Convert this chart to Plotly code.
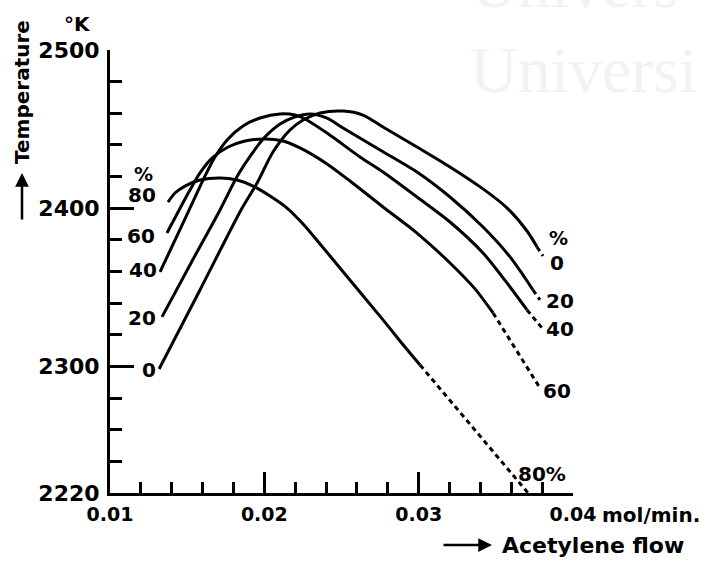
import plotly.graph_objects as go

# Flame temperature (K) versus acetylene flow (mol/min) for several admixture percentages.
# Solid parts are measured; the short tails are the extrapolated (dashed) continuations.
pct_labels = ["0", "20", "40", "60", "80"]

flow_0 = [0.01318, 0.01583, 0.01849, 0.01953, 0.02056, 0.02166, 0.02251, 0.02361, 0.02510,
          0.02639, 0.02769, 0.02989, 0.03203, 0.03417, 0.03572, 0.03702, 0.03767]
temp_0 = [2298.4, 2348.3, 2398.9, 2415.9, 2435.5, 2449.4, 2455.8, 2460.2, 2461.4,
          2458.9, 2451.3, 2438.7, 2426.1, 2412.2, 2400.2, 2385.6, 2375.5]
flow_0_ext = [0.03767, 0.03806]
temp_0_ext = [2375.5, 2369.8]

flow_20 = [0.01337, 0.01525, 0.01713, 0.01829, 0.01927, 0.02004, 0.02102, 0.02199, 0.02296,
           0.02406, 0.02510, 0.02750, 0.02989, 0.03203, 0.03417, 0.03592, 0.03741]
temp_20 = [2331.3, 2365.4, 2398.9, 2421.0, 2435.5, 2445.0, 2453.2, 2457.7, 2459.6,
           2457.0, 2450.7, 2436.8, 2422.9, 2407.1, 2388.1, 2369.2, 2348.3]
flow_20_ext = [0.03741, 0.03786]
temp_20_ext = [2348.3, 2342.0]

flow_40 = [0.01324, 0.01428, 0.01531, 0.01616, 0.01680, 0.01765, 0.01862, 0.01972, 0.02102,
           0.02199, 0.02251, 0.02406, 0.02620, 0.02769, 0.02989, 0.03203, 0.03417,
           0.03592, 0.03702]
temp_40 = [2359.7, 2381.2, 2402.7, 2420.4, 2432.4, 2443.8, 2452.0, 2457.0, 2459.6,
           2458.9, 2457.0, 2447.5, 2432.4, 2422.9, 2407.1, 2391.3, 2371.7,
           2350.2, 2335.7]
flow_40_ext = [0.03702, 0.03799]
temp_40_ext = [2335.7, 2324.3]

flow_60 = [0.01369, 0.01441, 0.01518, 0.01583, 0.01661, 0.01765, 0.01875, 0.02004, 0.02121,
           0.02231, 0.02406, 0.02555, 0.02769, 0.02989, 0.03203, 0.03365, 0.03482]
temp_60 = [2384.3, 2397.6, 2411.5, 2422.3, 2431.7, 2438.7, 2442.5, 2443.8, 2442.5,
           2438.1, 2428.0, 2417.2, 2400.8, 2384.3, 2365.4, 2349.0, 2333.8]
flow_60_ext = [0.03482, 0.03786]
temp_60_ext = [2333.8, 2286.4]

flow_80 = [0.01376, 0.01421, 0.01486, 0.01583, 0.01713, 0.01823, 0.01927, 0.02037, 0.02147,
           0.02251, 0.02361, 0.02490, 0.02769, 0.02879, 0.03009]
temp_80 = [2403.9, 2409.6, 2414.0, 2417.8, 2419.1, 2417.8, 2414.0, 2407.7, 2400.1,
           2390.0, 2377.4, 2362.2, 2329.4, 2316.1, 2300.9]
flow_80_ext = [0.03009, 0.03709]
temp_80_ext = [2300.9, 2220.0]

x_ticks = [0.01, 0.02, 0.03, 0.04]
x_ticktext = ["0.01", "0.02", "0.03", "0.04"]
y_ticks = [2220, 2300, 2400, 2500]
y_ticktext = ["2220", "2300", "2400", "2500"]

INK = "black"
FONT = dict(family="DejaVu Sans", color=INK, size=19, weight="bold")

# plot area in page pixels
L, R, T, B = 110, 573, 50, 493
W, H = 706, 563

fig = go.Figure()

curves = [
    (flow_0, temp_0, flow_0_ext, temp_0_ext),
    (flow_20, temp_20, flow_20_ext, temp_20_ext),
    (flow_40, temp_40, flow_40_ext, temp_40_ext),
    (flow_60, temp_60, flow_60_ext, temp_60_ext),
    (flow_80, temp_80, flow_80_ext, temp_80_ext),
]
for lab, (fx, ty, fxe, tye) in zip(pct_labels, curves):
    fig.add_trace(go.Scatter(
        x=fx, y=ty, mode="lines", name=lab + " %",
        line=dict(color=INK, width=3, shape="spline", smoothing=0.8),
        hoverinfo="skip", showlegend=False))
    fig.add_trace(go.Scatter(
        x=fxe, y=tye, mode="lines", name=lab + " % (extrapolated)",
        line=dict(color=INK, width=3, dash="5px,4px"),
        hoverinfo="skip", showlegend=False))


def at(px, py):
    """Page-pixel position expressed in paper coordinates."""
    return dict(xref="paper", yref="paper",
                x=(px - L) / (R - L), y=(B - py) / (B - T))


def label(text, px, py, size=19, anchor="center", **kw):
    fig.add_annotation(text=text, showarrow=False, xanchor=anchor, yanchor="middle",
                       font=dict(FONT, size=size), **at(px, py), **kw)


# curve labels, left side
label("%", 143, 174)
label("80", 142, 195, size=20)
label("60", 141, 236, size=20)
label("40", 143, 270, size=20)
label("20", 142, 318, size=20)
label("0", 149, 370, size=20)

# curve labels, right side
label("%", 558, 238)
label("0", 557, 263, size=20)
label("20", 560, 301, size=20)
label("40", 560, 329, size=20)
label("60", 557, 391, size=20)
label("80%", 542, 474, size=20)

# axis captions
label("°K", 77, 24, size=20)
label("Temperature", 22, 92, size=20, textangle=-90)
label("mol/min.", 600, 515, size=20, anchor="left")
label("Acetylene flow", 500, 545, size=22, anchor="left")

# arrows next to the captions
fig.add_annotation(text="", showarrow=True, arrowhead=2, arrowsize=1.1, arrowwidth=2.5,
                   arrowcolor=INK, ax=0, ay=48, axref="pixel", ayref="pixel", **at(22, 173))
fig.add_annotation(text="", showarrow=True, arrowhead=2, arrowsize=1.1, arrowwidth=2.5,
                   arrowcolor=INK, ax=-50, ay=0, axref="pixel", ayref="pixel", **at(492, 545))

# faint library watermark across the top right
WM = dict(family="Liberation Serif", size=66, color="#f2f2f2")
fig.add_annotation(text="Universi", showarrow=False, xanchor="left", yanchor="bottom",
                   font=WM, xref="paper", yref="paper",
                   x=(468 - L) / (R - L), y=(B - 108) / (B - T))
fig.add_annotation(text="Univers", showarrow=False, xanchor="left", yanchor="bottom",
                   font=WM, xref="paper", yref="paper",
                   x=(468 - L) / (R - L), y=(B - 23) / (B - T))

fig.update_xaxes(
    range=[0.01, 0.04], tickmode="array", tickvals=x_ticks, ticktext=x_ticktext,
    ticks="inside", ticklen=21, tickwidth=2.5, tickcolor=INK,
    showline=True, linewidth=3, linecolor=INK, showgrid=False, zeroline=False,
    tickfont=dict(FONT, size=19), ticklabelstandoff=2,
    minor=dict(tickmode="linear", tick0=0.01, dtick=0.002, ticks="inside", ticklen=11,
               tickwidth=2.5, tickcolor=INK, showgrid=False),
)
fig.update_yaxes(
    range=[2220, 2500], tickmode="array", tickvals=y_ticks, ticktext=y_ticktext,
    ticks="inside", ticklen=24, tickwidth=2.5, tickcolor=INK,
    showline=True, linewidth=3, linecolor=INK, showgrid=False, zeroline=False,
    tickfont=dict(FONT, size=22), ticklabelstandoff=3,
    minor=dict(tickmode="linear", tick0=2220, dtick=20, ticks="inside", ticklen=12,
               tickwidth=2.5, tickcolor=INK, showgrid=False),
)

fig.update_layout(
    width=W, height=H,
    margin=dict(l=L, r=W - R, t=T, b=H - B, pad=0),
    paper_bgcolor="white", plot_bgcolor="white",
    showlegend=False,
)

fig.write_html("out.html")
